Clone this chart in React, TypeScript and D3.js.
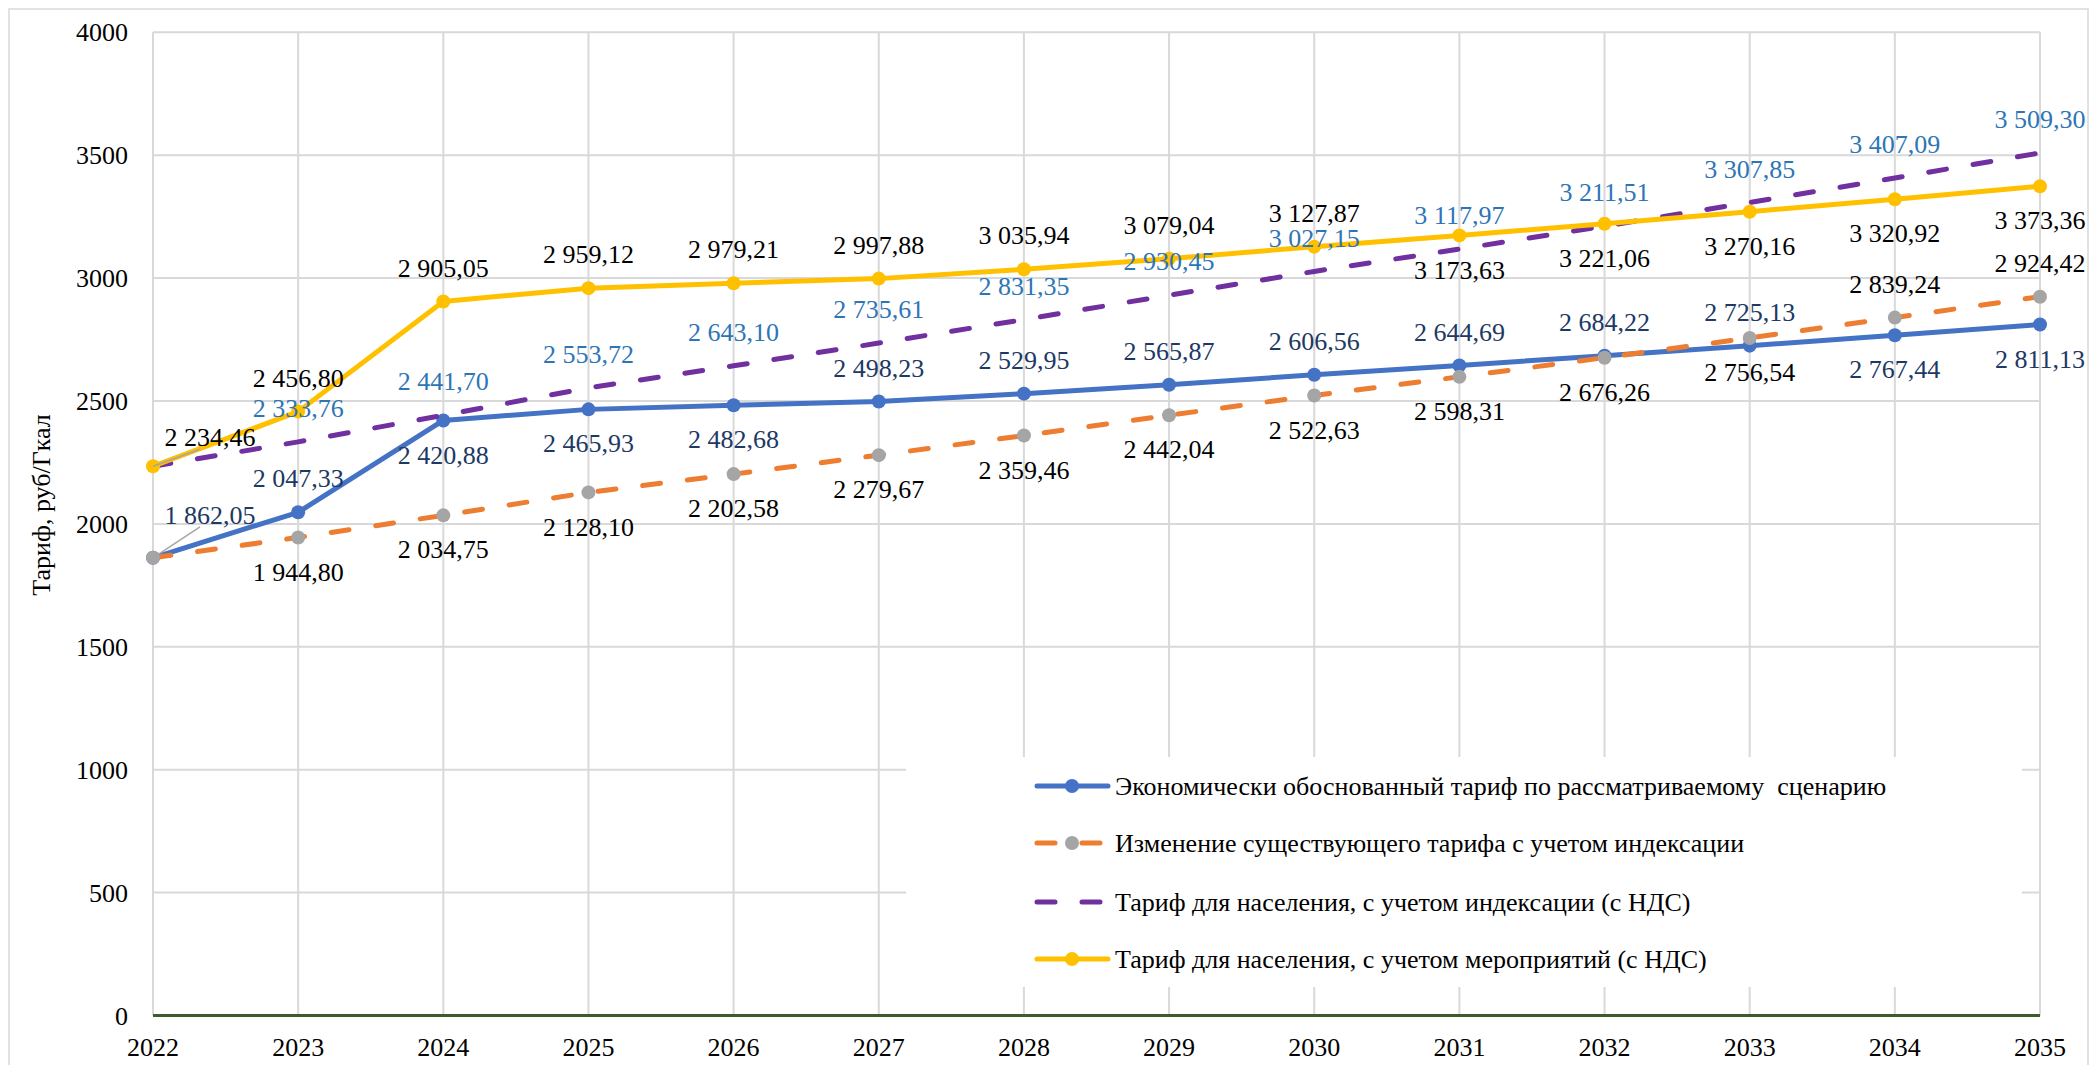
import React, { useEffect, useRef } from "react";
import * as d3 from "d3";

// years on the x axis
const years = [2022, 2023, 2024, 2025, 2026, 2027, 2028, 2029, 2030, 2031, 2032, 2033, 2034, 2035];

// tariff values, руб/Гкал
const econTariff = [1862.05, 2047.33, 2420.88, 2465.93, 2482.68, 2498.23, 2529.95, 2565.87, 2606.56, 2644.69, 2684.22, 2725.13, 2767.44, 2811.13];
const indexedTariff = [1862.05, 1944.8, 2034.75, 2128.1, 2202.58, 2279.67, 2359.46, 2442.04, 2522.63, 2598.31, 2676.26, 2756.54, 2839.24, 2924.42];
const popIndexed = [2234.46, 2333.76, 2441.7, 2553.72, 2643.1, 2735.61, 2831.35, 2930.45, 3027.15, 3117.97, 3211.51, 3307.85, 3407.09, 3509.3];
const popMeasures = [2234.46, 2456.8, 2905.05, 2959.12, 2979.21, 2997.88, 3035.94, 3079.04, 3127.87, 3173.63, 3221.06, 3270.16, 3320.92, 3373.36];

// where each data label sits: a = above, b = below, L = moved off with leader line, n = hidden
const econSide = ["L", "a", "b", "b", "b", "a", "a", "a", "a", "a", "a", "a", "b", "b"];
const indexedSide = ["n", "b", "b", "b", "b", "b", "b", "b", "b", "b", "b", "b", "a", "a"];
const popIndexedSide = ["n", "a", "a", "a", "a", "a", "a", "a", "a", "a", "a", "a", "a", "a"];
const popMeasuresSide = ["L", "a", "a", "a", "a", "a", "a", "a", "a", "b", "b", "b", "b", "b"];

const yTicks = [0, 500, 1000, 1500, 2000, 2500, 3000, 3500, 4000];

const FONT = "Liberation Serif";

const series = [
  {
    name: "Экономически обоснованный тариф по рассматриваемому  сценарию",
    values: econTariff, side: econSide,
    color: "#4472c4", marker: "#4472c4", dash: null, label: "#203864", leaderDy: -43,
  },
  {
    name: "Изменение существующего тарифа с учетом индексации",
    values: indexedTariff, side: indexedSide,
    color: "#ed7d31", marker: "#a5a5a5", dash: "18 27", label: "#000000", leaderDy: -36,
  },
  {
    name: "Тариф для населения, с учетом индексации (с НДС)",
    values: popIndexed, side: popIndexedSide,
    color: "#7030a0", marker: null, dash: "18 27", label: "#2e75b6", leaderDy: -36,
  },
  {
    name: "Тариф для населения, с учетом мероприятий (с НДС)",
    values: popMeasures, side: popMeasuresSide,
    color: "#ffc000", marker: "#ffc000", dash: null, label: "#000000", leaderDy: -29,
  },
];

// "2 905,05" style
const fmt = (v: number) => {
  const [i, f] = v.toFixed(2).split(".");
  return i.replace(/\B(?=(\d{3})+(?!\d))/g, "\u00a0") + "," + f;
};

const App = () => {
  const svgRef = useRef<SVGSVGElement>(null);

  useEffect(() => {
    const W = 2090;
    const H = 1065;
    const svg = d3.select(svgRef.current).attr("width", W).attr("height", H);
    svg.selectAll("*").remove();

    const x = d3.scalePoint<number>().domain(years).range([153, 2040]);
    const y = d3.scaleLinear().domain([0, 4000]).range([1015.5, 32.3]);

    const txt = (g: any) =>
      g.append("text").attr("font-family", FONT).attr("font-size", 26);

    // outer chart frame
    svg.append("rect")
      .attr("x", 9).attr("y", 9).attr("width", 2079).attr("height", 1070)
      .attr("fill", "#fff").attr("stroke", "#d9d9d9").attr("stroke-width", 1.5);

    // grid
    svg.append("g").selectAll("line").data(yTicks.slice(1)).enter().append("line")
      .attr("x1", x(2022)!).attr("x2", x(2035)!)
      .attr("y1", (d) => y(d)).attr("y2", (d) => y(d))
      .attr("stroke", "#d9d9d9").attr("stroke-width", 2);
    svg.append("g").selectAll("line").data(years).enter().append("line")
      .attr("x1", (d) => x(d)!).attr("x2", (d) => x(d)!)
      .attr("y1", y(4000)).attr("y2", y(0))
      .attr("stroke", "#d9d9d9").attr("stroke-width", 2);

    // x axis line
    svg.append("line")
      .attr("x1", x(2022)!).attr("x2", x(2035)!)
      .attr("y1", y(0)).attr("y2", y(0))
      .attr("stroke", "#3e5c2c").attr("stroke-width", 3);

    // tick labels
    yTicks.forEach((t) => {
      txt(svg).attr("x", 128).attr("y", y(t)).attr("dy", "0.35em")
        .attr("text-anchor", "end").text(t);
    });
    years.forEach((yr) => {
      txt(svg).attr("x", x(yr)!).attr("y", 1056)
        .attr("text-anchor", "middle").text(yr);
    });

    // axis title
    txt(svg)
      .attr("transform", `translate(50,505) rotate(-90)`)
      .attr("text-anchor", "middle")
      .text("Тариф, руб/Гкал");

    const line = d3.line<number>()
      .x((d, i) => x(years[i])!)
      .y((d) => y(d));

    series.forEach((s) => {
      svg.append("path")
        .attr("d", line(s.values))
        .attr("fill", "none")
        .attr("stroke", s.color)
        .attr("stroke-width", 5)
        .attr("stroke-linecap", "round")
        .attr("stroke-linejoin", "round")
        .attr("stroke-dasharray", s.dash);
      if (s.marker) {
        svg.append("g").selectAll("circle").data(s.values).enter().append("circle")
          .attr("cx", (d, i) => x(years[i])!)
          .attr("cy", (d) => y(d))
          .attr("r", 7)
          .attr("fill", s.marker);
      }
    });

    // data labels
    series.forEach((s) => {
      s.values.forEach((v, i) => {
        const side = s.side[i];
        if (side === "n") return;
        const px = x(years[i])!;
        const py = y(v);
        let lx = px;
        let ly = side === "a" ? py - 34 : py + 34;
        if (side === "L") {
          lx = px + 57;
          ly = py + s.leaderDy;
          svg.append("line")
            .attr("x1", px).attr("y1", py)
            .attr("x2", lx - 10).attr("y2", ly + 12)
            .attr("stroke", "#a6a6a6").attr("stroke-width", 1.5);
        }
        txt(svg)
          .attr("x", lx).attr("y", ly).attr("dy", "0.35em")
          .attr("text-anchor", "middle")
          .attr("fill", s.label)
          .text(fmt(v));
      });
    });

    // legend
    const lg = svg.append("g");
    lg.append("rect")
      .attr("x", 906).attr("y", 757).attr("width", 1116).attr("height", 230)
      .attr("fill", "#fff");
    const rows = [786, 843, 902, 959];
    series.forEach((s, i) => {
      const ry = rows[i];
      lg.append("line")
        .attr("x1", 1037).attr("x2", 1108).attr("y1", ry).attr("y2", ry)
        .attr("stroke", s.color).attr("stroke-width", 5)
        .attr("stroke-linecap", "round")
        .attr("stroke-dasharray", s.dash);
      if (s.marker) {
        lg.append("circle").attr("cx", 1072).attr("cy", ry).attr("r", 7).attr("fill", s.marker);
      }
      txt(lg)
        .attr("x", 1115).attr("y", ry).attr("dy", "0.35em")
        .style("white-space", "pre")
        .text(s.name);
    });
  }, []);

  return (
    <div style={{ position: "absolute", left: 0, top: 0 }}>
      <svg ref={svgRef} style={{ display: "block" }}></svg>
    </div>
  );
};

export default App;
